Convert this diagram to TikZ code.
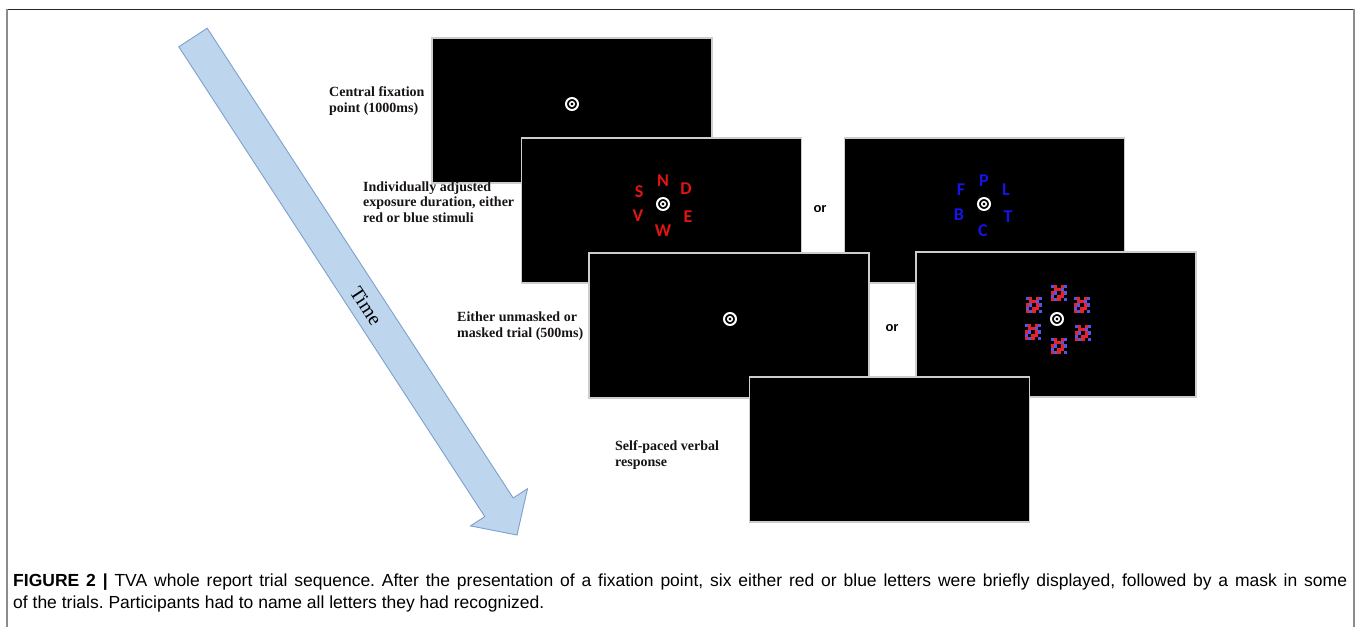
\documentclass[tikz,border=0pt]{standalone}
\usepackage{fontspec}
\setmainfont{Liberation Serif}
\newfontfamily\capfont{Liberation Sans}
\newfontfamily\orfont{Liberation Sans}
\newfontfamily\letfont{Carlito}
\begin{document}
\begin{tikzpicture}[x=1pt,y=-1pt,
  screen/.style={fill=black, draw={rgb,255:red,205;green,205;blue,205}, line width=1.6pt,
    minimum width=280pt, minimum height=145pt, inner sep=0pt},
  lab/.style={anchor=base west, align=left, inner sep=0pt, text={rgb,255:red,25;green,20;blue,20},
    font=\fontsize{14}{15.5}\selectfont\bfseries},
  orlab/.style={inner sep=0pt, font=\orfont\fontsize{13}{13}\selectfont\bfseries},
  redl/.style={inner sep=0pt, text={rgb,255:red,225;green,20;blue,20}, font=\letfont\fontsize{18}{18}\selectfont\bfseries},
  bluel/.style={inner sep=0pt, text={rgb,255:red,20;green,20;blue,235}, font=\letfont\fontsize{18}{18}\selectfont\bfseries},
  fixring/.pic={\draw[white, line width=2pt] (0,0) circle (6); \draw[white, line width=1.5pt] (0,0) circle (2.3);},
  maskpic/.pic={
    \foreach \i/\j/\c in {0/0/mb,1/0/mr,2/0/black,3/0/mr,4/0/mb,
                          0/1/black,1/1/mr,2/1/mr,3/1/mb,4/1/black,
                          0/2/mr,1/2/mb,2/2/black,3/2/mr,4/2/mb,
                          0/3/mb,1/3/black,2/3/mr,3/3/mr,4/3/black,
                          0/4/mr,1/4/mb,2/4/mr,3/4/black,4/4/mb}
      {\fill[\c] (\i*3.2-8,\j*3.2-8) rectangle ++(3.2,3.2);}
  }]
\definecolor{mr}{RGB}{228,35,45}
\definecolor{mb}{RGB}{85,85,235}
\definecolor{arrfill}{RGB}{189,214,238}
\definecolor{arrdraw}{RGB}{125,160,205}
\useasboundingbox (0,0) rectangle (1360,627);
\fill[white] (0,0) rectangle (1360,627);
% frame
\draw[black!85, line width=1pt] (7,9) -- (1354,9);
\draw[black!45, line width=1.3pt] (7,9) -- (7,627);
\draw[black!45, line width=1.3pt] (1354,9) -- (1354,627);

% time arrow
\fill[arrfill, draw=arrdraw, line width=0.9pt]
  (178.8,46.8) -- (207.2,28.2) -- (513.2,498) -- (527.5,488.7) -- (517,535)
  -- (470.5,525.9) -- (484.8,516.6) -- cycle;
\node[rotate=-56.9, inner sep=0pt, font=\fontsize{20}{20}\selectfont] (time) at (366,306) {Time};

% screens
\node[screen] (s1) at (572,110.5) {};
\node[screen] (s2) at (661.5,210.5) {};
\node[screen] (s3) at (984.5,210.5) {};
\node[screen] (s4) at (729,325.5) {};
\node[screen] (s5) at (1056,324.5) {};
\node[screen] (s6) at (889.5,449.5) {};

% fixation points
\pic at (572,104) {fixring};
\pic at (663,204) {fixring};
\pic at (984,204) {fixring};
\pic at (730,319) {fixring};
\pic at (1057,319) {fixring};

% red letters
\node[redl] (rN) at (663,181) {N};
\node[redl] (rD) at (686,189) {D};
\node[redl] (rS) at (639,192) {S};
\node[redl] (rV) at (638,216) {V};
\node[redl] (rE) at (688,217) {E};
\node[redl] (rW) at (663,231) {W};

% blue letters
\node[bluel] (bP) at (984,181) {P};
\node[bluel] (bL) at (1006,190) {L};
\node[bluel] (bF) at (961,190) {F};
\node[bluel] (bB) at (959,215) {B};
\node[bluel] (bT) at (1008,217) {T};
\node[bluel] (bC) at (983,231) {C};

% masks
\pic at (1059,293) {maskpic};
\pic at (1034,305) {maskpic};
\pic at (1082,305) {maskpic};
\pic at (1033,332) {maskpic};
\pic at (1083,333) {maskpic};
\pic at (1059,346) {maskpic};

% or labels
\node[orlab] (or1) at (820,209) {or};
\node[orlab] (or2) at (892,328) {or};

% labels
\node[lab] (l1) at (329,112) {Central fixation\\point (1000ms)};
\node[lab] (l2) at (363,222) {Individually adjusted\\exposure duration, either\\red or blue stimuli};
\node[lab] (l3) at (457,337) {Either unmasked or\\masked trial (500ms)};
\node[lab] (l4) at (615,466) {Self-paced verbal\\response};

% caption
\node[anchor=base west, inner sep=0pt] (cap) at (13,586) {\parbox[t]{1334pt}{\frenchspacing\capfont\fontsize{17.5}{22}\selectfont
\textbf{FIGURE 2 |} TVA whole report trial sequence. After the presentation of a fixation point, six either red or blue letters were briefly displayed, followed by a mask in some\linebreak of the trials. Participants had to name all letters they had recognized.}};
\end{tikzpicture}
\end{document}
